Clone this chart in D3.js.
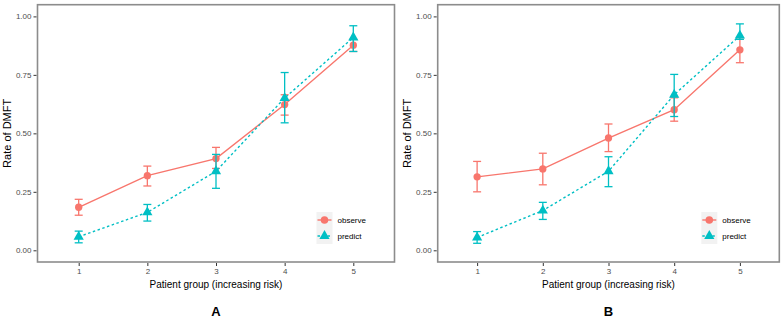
<!DOCTYPE html>
<html>
<head>
<meta charset="utf-8">
<script src="https://cdn.jsdelivr.net/npm/d3@7"></script>
<style>
  body { margin: 0; background: #fff; }
  svg { font-family: "Liberation Sans", Arial, sans-serif; }
  .tick text { fill: #4d4d4d; font-size: 8px; }
  .tick line { stroke: #333; }
  .axis-title { font-size: 10px; fill: #000; }
  .y-title { font-size: 11px; }
  .panel-label { font-size: 13px; font-weight: bold; }
  .legend-text { font-size: 8px; fill: #000; }
</style>
</head>
<body>
<svg id="chart" width="784" height="320"></svg>
<script>
// patient groups on x axis
const groups = [1, 2, 3, 4, 5];
const yTicks = [0, 0.25, 0.5, 0.75, 1];
const seriesNames = ['observe', 'predict'];

// panel A
const obsA = [0.184, 0.319, 0.392, 0.623, 0.877];
const obsALow = [0.150, 0.275, 0.350, 0.578, 0.850];
const obsAHigh = [0.218, 0.360, 0.440, 0.665, 0.902];
const predA = [0.058, 0.162, 0.338, 0.651, 0.910];
const predALow = [0.032, 0.125, 0.265, 0.545, 0.850];
const predAHigh = [0.082, 0.196, 0.410, 0.760, 0.960];

// panel B
const obsB = [0.314, 0.348, 0.480, 0.601, 0.857];
const obsBLow = [0.250, 0.280, 0.422, 0.552, 0.802];
const obsBHigh = [0.380, 0.415, 0.540, 0.652, 0.902];
const predB = [0.055, 0.170, 0.338, 0.665, 0.918];
const predBLow = [0.030, 0.132, 0.272, 0.572, 0.902];
const predBHigh = [0.080, 0.205, 0.400, 0.752, 0.968];

const colors = {observe: '#F8766D', predict: '#00BFC4'};

function makeSeries(name, vals, lo, hi) {
  return groups.map((g, i) => ({group: g, key: name, value: vals[i], low: lo[i], high: hi[i]}));
}

function drawPanel(cfg, series) {
  const svg = d3.select('#chart');
  const g = svg.append('g');

  const x = d3.scaleLinear().domain([0.4, 5.6]).range([cfg.left, cfg.right]);
  const y = d3.scaleLinear().domain([-0.05, 1.05]).range([cfg.bottom, cfg.top]);

  // panel border
  g.append('rect')
      .attr('x', cfg.left)
      .attr('y', cfg.top)
      .attr('width', cfg.right - cfg.left)
      .attr('height', cfg.bottom - cfg.top)
      .attr('fill', 'none')
      .attr('stroke', '#8c8c8c')
      .attr('stroke-width', 1.6);

  const yAxis = d3.axisLeft(y)
      .tickValues(yTicks)
      .tickFormat(d3.format('.2f'))
      .tickSize(3)
      .tickPadding(2);
  g.append('g')
      .attr('transform', `translate(${cfg.left - 1},0)`)
      .call(yAxis)
      .call(a => a.select('.domain').remove());

  const xAxis = d3.axisBottom(x)
      .tickValues(groups)
      .tickFormat(d3.format('d'))
      .tickSize(3)
      .tickPadding(2);
  g.append('g')
      .attr('transform', `translate(0,${cfg.bottom + 1})`)
      .call(xAxis)
      .call(a => a.select('.domain').remove());

  // axis titles
  g.append('text')
      .attr('class', 'axis-title')
      .attr('x', (cfg.left + cfg.right) / 2)
      .attr('y', cfg.bottom + 26)
      .attr('text-anchor', 'middle')
      .text('Patient group (increasing risk)');

  g.append('text')
      .attr('class', 'axis-title y-title')
      .attr('transform', `translate(${cfg.yTitleX},${(cfg.top + cfg.bottom) / 2}) rotate(-90)`)
      .attr('text-anchor', 'middle')
      .text('Rate of DMFT');

  g.append('text')
      .attr('class', 'panel-label')
      .attr('x', (cfg.left + cfg.right) / 2)
      .attr('y', 316)
      .attr('text-anchor', 'middle')
      .text(cfg.label);

  const line = d3.line().x(d => x(d.group)).y(d => y(d.value));
  const cap = 4;

  series.forEach(s => {
    const col = colors[s[0].key];
    const sg = g.append('g');

    sg.append('path')
        .datum(s)
        .attr('d', line)
        .attr('fill', 'none')
        .attr('stroke', col)
        .attr('stroke-width', 1.4)
        .attr('stroke-dasharray', s[0].key === 'predict' ? '2.5,2.5' : null);

    // error bars
    const eb = sg.selectAll('.err')
        .data(s)
        .join('g');
    eb.append('line')
        .attr('x1', d => x(d.group)).attr('x2', d => x(d.group))
        .attr('y1', d => y(d.low)).attr('y2', d => y(d.high));
    eb.append('line')
        .attr('x1', d => x(d.group) - cap).attr('x2', d => x(d.group) + cap)
        .attr('y1', d => y(d.low)).attr('y2', d => y(d.low));
    eb.append('line')
        .attr('x1', d => x(d.group) - cap).attr('x2', d => x(d.group) + cap)
        .attr('y1', d => y(d.high)).attr('y2', d => y(d.high));
    eb.selectAll('line')
        .attr('stroke', col)
        .attr('stroke-width', 1.3);

    // markers
    const sym = s[0].key === 'predict' ? d3.symbolTriangle : d3.symbolCircle;
    const size = s[0].key === 'predict' ? 45 : 42;
    sg.selectAll('.pt')
        .data(s)
        .join('path')
        .attr('transform', d => `translate(${x(d.group)},${y(d.value)})`)
        .attr('d', d3.symbol().type(sym).size(size))
        .attr('fill', col);
  });

  // legend
  const lg = g.append('g')
      .attr('transform', `translate(${cfg.right - 78},${cfg.bottom - 50})`);
  seriesNames.forEach((name, i) => {
    const row = lg.append('g').attr('transform', `translate(0,${i * 16})`);
    row.append('rect')
        .attr('width', 16).attr('height', 16)
        .attr('fill', '#f2f2f2');
    row.append('line')
        .attr('x1', 1).attr('x2', 15).attr('y1', 8).attr('y2', 8)
        .attr('stroke', colors[name])
        .attr('stroke-width', 1.4)
        .attr('stroke-dasharray', name === 'predict' ? '2.5,2.5' : null);
    row.append('path')
        .attr('transform', 'translate(8,8)')
        .attr('d', d3.symbol().type(name === 'predict' ? d3.symbolTriangle : d3.symbolCircle).size(45))
        .attr('fill', colors[name]);
    row.append('text')
        .attr('class', 'legend-text')
        .attr('x', 21)
        .attr('y', 11)
        .text(name);
  });
}

drawPanel({left: 37.5, right: 394.5, top: 4.7, bottom: 262, yTitleX: 11, label: 'A'}, [
  makeSeries('observe', obsA, obsALow, obsAHigh),
  makeSeries('predict', predA, predALow, predAHigh)
]);

drawPanel({left: 437.7, right: 779.3, top: 4.7, bottom: 262, yTitleX: 411, label: 'B'}, [
  makeSeries('observe', obsB, obsBLow, obsBHigh),
  makeSeries('predict', predB, predBLow, predBHigh)
]);
</script>
</body>
</html>
